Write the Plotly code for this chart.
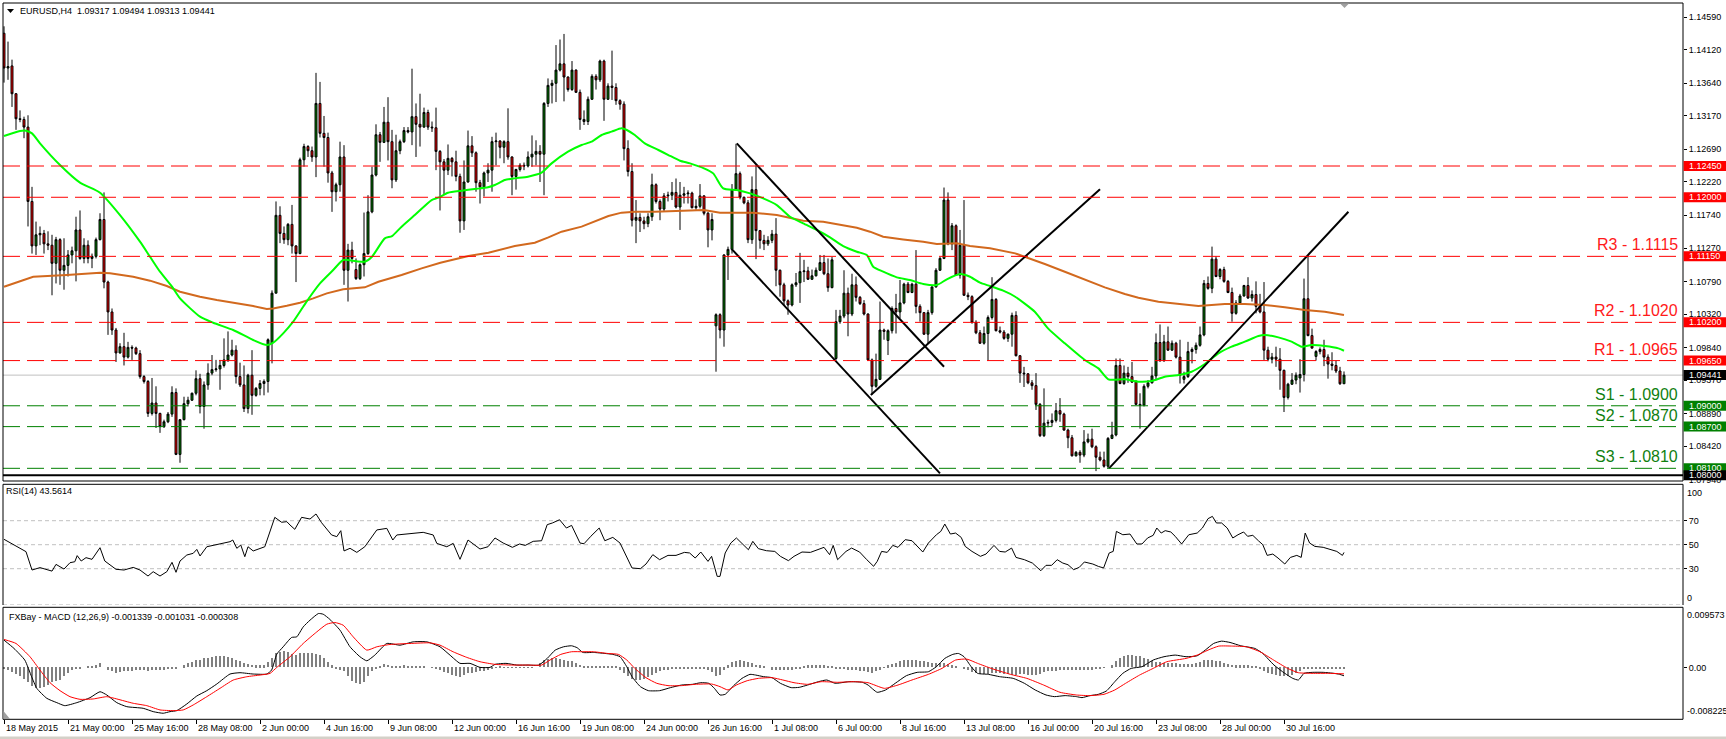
import plotly.graph_objects as go

# ---------------- text ----------------
symbol_header = "EURUSD,H4  1.09317 1.09494 1.09313 1.09441"
rsi_header = "RSI(14) 43.5614"
macd_header = "FXBay - MACD (12,26,9) -0.001339 -0.001031 -0.000308"

# ---------------- x-axis tick labels (every 16 H4 bars) ----------------
time_labels = ["18 May 2015", "21 May 00:00", "25 May 16:00", "28 May 08:00", "2 Jun 00:00",
               "4 Jun 16:00", "9 Jun 08:00", "12 Jun 00:00", "16 Jun 16:00", "19 Jun 08:00",
               "24 Jun 00:00", "26 Jun 16:00", "1 Jul 08:00", "6 Jul 00:00", "8 Jul 16:00",
               "13 Jul 08:00", "16 Jul 00:00", "20 Jul 16:00", "23 Jul 08:00", "28 Jul 00:00",
               "30 Jul 16:00"]
label_bars = [0, 16, 32, 48, 64, 80, 96, 112, 128, 144, 160, 176, 192, 208, 224, 240, 256, 272, 288, 304, 320]

# ---------------- OHLC (H4 bars, index 0 = 18 May 16:00) ----------------
open_ = [
1.1436,1.1386,1.1389,1.1349,1.1313,1.1312,1.1301,1.1194,1.1130,1.1146,
1.1148,1.1133,1.1131,1.1105,1.1139,1.1095,1.1102,1.1117,1.1123,1.1153,
1.1112,1.1131,1.1112,1.1115,1.1139,1.1168,1.1078,1.1035,1.1009,1.0976,
1.0985,1.0970,1.0984,1.0983,1.0975,1.0942,1.0935,1.0889,1.0904,1.0889,
1.0870,1.0877,1.0888,1.0919,1.0830,1.0880,1.0903,1.0908,1.0918,1.0939,
1.0899,1.0930,1.0947,1.0952,1.0953,1.0958,1.0966,1.0973,1.0980,1.0942,
1.0930,1.0896,1.0944,1.0915,1.0925,1.0932,1.0935,1.0990,1.1062,1.1174,
1.1148,1.1139,1.1161,1.1130,1.1119,1.1254,1.1273,1.1267,1.1258,1.1335,
1.1292,1.1286,1.1235,1.1208,1.1218,1.1258,1.1095,1.1124,1.1096,1.1083,
1.1103,1.1119,1.1179,1.1232,1.1290,1.1279,1.1308,1.1280,1.1225,1.1267,
1.1280,1.1296,1.1294,1.1316,1.1305,1.1301,1.1322,1.1301,1.1300,1.1266,
1.1251,1.1239,1.1256,1.1251,1.1230,1.1166,1.1222,1.1274,1.1264,1.1221,
1.1215,1.1235,1.1239,1.1280,1.1281,1.1272,1.1280,1.1258,1.1230,1.1240,
1.1246,1.1245,1.1258,1.1262,1.1266,1.1262,1.1335,1.1361,1.1364,1.1383,
1.1392,1.1373,1.1355,1.1383,1.1351,1.1312,1.1309,1.1341,1.1374,1.1369,
1.1396,1.1341,1.1360,1.1358,1.1339,1.1334,1.1270,1.1237,1.1167,1.1171,
1.1166,1.1162,1.1172,1.1218,1.1194,1.1183,1.1202,1.1203,1.1207,1.1186,
1.1203,1.1205,1.1206,1.1185,1.1187,1.1202,1.1177,1.1153,1.1015,1.1031,
1.1009,1.1117,1.1125,1.1211,1.1234,1.1200,1.1192,1.1139,1.1211,1.1152,
1.1138,1.1133,1.1138,1.1147,1.1095,1.1074,1.1051,1.1045,1.1074,1.1077,
1.1093,1.1094,1.1082,1.1087,1.1095,1.1106,1.1090,1.1070,1.0968,1.1021,
1.1029,1.1062,1.1032,1.1074,1.1056,1.1047,1.1032,1.0966,1.0928,1.0938,
1.1009,1.0994,1.1008,1.1040,1.1035,1.1048,1.1075,1.1063,1.1075,1.1043,
1.1034,1.1003,1.1034,1.1071,1.1095,1.1112,1.1196,1.1133,1.1159,1.1088,
1.1131,1.1059,1.1057,1.1020,1.1005,1.0990,1.1004,1.1027,1.1053,1.1008,
1.1006,1.0997,1.1003,1.1030,1.0972,1.0947,1.0946,1.0933,1.0929,1.0902,
1.0857,1.0875,1.0876,1.0879,1.0893,1.0888,1.0865,1.0854,1.0828,1.0833,
1.0829,1.0848,1.0852,1.0841,1.0826,1.0822,1.0813,1.0853,1.0858,1.0958,
1.0932,1.0947,1.0942,1.0934,1.0902,1.0901,1.0928,1.0933,1.0943,1.0991,
1.0965,1.0992,1.0980,1.0990,1.0970,1.0938,1.0942,1.0978,1.0981,1.0987,
1.1002,1.1076,1.1069,1.1111,1.1086,1.1096,1.1079,1.1063,1.1033,1.1048,
1.1058,1.1073,1.1055,1.1060,1.1043,1.1035,1.0980,1.0967,1.0970,1.0967,
1.0951,1.0912,1.0931,1.0937,1.0940,1.0945,1.1054,1.1001,1.0971,1.0978,
1.0981,1.0970,1.0960,1.0958,1.0950,1.09317]
high = [
1.1446,1.1424,1.1398,1.1350,1.1325,1.1316,1.1318,1.1215,1.1165,1.1158,
1.1153,1.1151,1.1146,1.1143,1.1141,1.1141,1.1124,1.1129,1.1172,1.1181,
1.1141,1.1138,1.1119,1.1142,1.1177,1.1207,1.1080,1.1040,1.1012,1.0990,
1.1005,1.0992,1.0987,1.0985,1.0980,1.0944,1.0937,1.0940,1.0928,1.0890,
1.0880,1.0891,1.0928,1.0925,1.0881,1.0913,1.0913,1.0919,1.0951,1.0946,
1.0935,1.0961,1.0973,1.0966,1.0966,1.0997,1.1007,1.0995,1.0987,1.0962,
1.0958,1.0946,1.0980,1.0927,1.0937,1.0938,1.0997,1.1066,1.1194,1.1187,
1.1158,1.1163,1.1189,1.1131,1.1257,1.1277,1.1275,1.1273,1.1379,1.1366,
1.1317,1.1293,1.1238,1.1221,1.1280,1.1275,1.1133,1.1136,1.1112,1.1105,
1.1178,1.1203,1.1244,1.1305,1.1294,1.1330,1.1344,1.1297,1.1290,1.1283,
1.1301,1.1301,1.1385,1.1335,1.1349,1.1329,1.1326,1.1309,1.1329,1.1268,
1.1255,1.1276,1.1258,1.1267,1.1234,1.1253,1.1296,1.1288,1.1266,1.1225,
1.1237,1.1249,1.1287,1.1293,1.1282,1.1282,1.1328,1.1259,1.1241,1.1249,
1.1250,1.1266,1.1289,1.1282,1.1275,1.1337,1.1371,1.1369,1.1419,1.1427,
1.1435,1.1374,1.1396,1.1384,1.1355,1.1325,1.1345,1.1377,1.1377,1.1398,
1.1398,1.1364,1.1411,1.1364,1.1341,1.1338,1.1282,1.1249,1.1196,1.1177,
1.1172,1.1177,1.1234,1.1220,1.1197,1.1206,1.1208,1.1222,1.1227,1.1222,
1.1215,1.1210,1.1208,1.1197,1.1219,1.1203,1.1179,1.1177,1.1033,1.1033,
1.1118,1.1129,1.1219,1.1277,1.1237,1.1201,1.1196,1.1230,1.1246,1.1153,
1.1146,1.1144,1.1153,1.1170,1.1096,1.1077,1.1053,1.1076,1.1091,1.1120,
1.1110,1.1100,1.1096,1.1099,1.1117,1.1117,1.1112,1.1114,1.1038,1.1038,
1.1095,1.1070,1.1090,1.1086,1.1058,1.1052,1.1033,1.0968,1.0975,1.1050,
1.1011,1.1010,1.1043,1.1061,1.1081,1.1077,1.1078,1.1077,1.1124,1.1046,
1.1035,1.1038,1.1072,1.1098,1.1114,1.1214,1.1207,1.1163,1.1161,1.1153,
1.1196,1.1063,1.1059,1.1023,1.1009,1.1014,1.1030,1.1085,1.1055,1.1014,
1.1009,1.1004,1.1034,1.1036,1.0973,1.0956,1.0947,1.0937,1.0947,1.0904,
1.0925,1.0880,1.0889,1.0904,1.0911,1.0890,1.0867,1.0858,1.0835,1.0836,
1.0865,1.0860,1.0867,1.0843,1.0834,1.0834,1.0855,1.0877,1.0968,1.0968,
1.0958,1.0956,1.0963,1.0937,1.0918,1.0931,1.0937,1.0956,1.1004,1.1017,
1.1002,1.1014,1.0994,1.0992,1.0995,1.0949,1.0992,1.0984,1.0991,1.1014,
1.1081,1.1086,1.1129,1.1115,1.1098,1.1100,1.1081,1.1070,1.1052,1.1061,
1.1074,1.1085,1.1066,1.1079,1.1061,1.1078,1.0985,1.0976,1.0985,1.0983,
1.0952,1.0933,1.0947,1.0948,1.0967,1.1083,1.1117,1.1011,1.0980,1.0984,
1.0995,1.0974,1.0977,1.0965,1.0956,1.09494]
low = [
1.1365,1.1369,1.1330,1.1297,1.1308,1.1285,1.1158,1.1119,1.1117,1.1131,
1.1119,1.1124,1.1059,1.1076,1.1074,1.1067,1.1086,1.1105,1.1079,1.1110,
1.1105,1.1105,1.1098,1.1112,1.1138,1.1069,1.1002,1.1002,1.0963,1.0975,
1.0958,1.0968,1.0966,1.0973,1.0939,1.0932,1.0884,1.0886,1.0868,1.0861,
1.0868,1.0875,1.0884,1.0829,1.0818,1.0879,1.0899,1.0907,1.0915,1.0889,
1.0867,1.0923,1.0944,1.0949,1.0923,1.0955,1.0963,1.0971,1.0932,1.0927,
1.0891,1.0889,1.0887,1.0913,1.0915,1.0915,1.0919,1.0961,1.1062,1.1134,
1.1133,1.1131,1.1119,1.1078,1.1118,1.1244,1.1258,1.1251,1.1229,1.1286,
1.1244,1.1221,1.1179,1.1194,1.1208,1.1074,1.1050,1.1105,1.1081,1.1081,
1.1086,1.1117,1.1177,1.1230,1.1251,1.1278,1.1253,1.1213,1.1222,1.1262,
1.1278,1.1292,1.1275,1.1258,1.1273,1.1300,1.1297,1.1294,1.1239,1.1181,
1.1203,1.1232,1.1230,1.1223,1.1149,1.1153,1.1221,1.1258,1.1208,1.1191,
1.1201,1.1222,1.1208,1.1246,1.1256,1.1249,1.1254,1.1203,1.1211,1.1237,
1.1239,1.1243,1.1244,1.1246,1.1222,1.1203,1.1330,1.1335,1.1337,1.1381,
1.1338,1.1352,1.1353,1.1350,1.1297,1.1304,1.1304,1.1340,1.1355,1.1366,
1.1310,1.1340,1.1340,1.1333,1.1326,1.1253,1.1230,1.1158,1.1134,1.1150,
1.1154,1.1157,1.1166,1.1191,1.1167,1.1179,1.1194,1.1196,1.1184,1.1153,
1.1191,1.1191,1.1184,1.1182,1.1184,1.1174,1.1128,1.1138,1.0949,1.0997,
1.0985,1.1081,1.1119,1.1209,1.1197,1.1190,1.1134,1.1133,1.1111,1.1126,
1.1124,1.1130,1.1134,1.1072,1.1057,1.1044,1.1031,1.1043,1.1071,1.1048,
1.1078,1.1081,1.1081,1.1086,1.1094,1.1088,1.1064,1.1069,1.0966,1.1018,
1.1026,1.1000,1.1029,1.1050,1.1045,1.1030,1.0965,1.0916,1.0926,1.0937,
1.0995,1.0973,1.1004,1.1004,1.1026,1.1046,1.1062,1.1062,1.1033,1.1021,
1.1002,1.0990,1.1031,1.1070,1.1094,1.1111,1.1131,1.1124,1.1087,1.1083,
1.1058,1.1052,1.1018,1.1003,1.0989,1.0988,1.0965,1.1024,1.1007,1.1004,
1.0995,1.0992,1.0985,1.0971,1.0933,1.0927,1.0931,1.0923,1.0894,1.0855,
1.0855,1.0869,1.0870,1.0876,1.0877,1.0864,1.0839,1.0827,1.0827,1.0818,
1.0826,1.0846,1.0839,1.0806,1.0820,1.0811,1.0810,1.0852,1.0856,1.0931,
1.0930,1.0933,1.0933,1.0901,1.0867,1.0899,1.0925,1.0932,1.0937,1.0963,
1.0963,1.0979,1.0979,1.0968,1.0932,1.0932,1.0940,1.0961,1.0975,1.0985,
1.1000,1.1067,1.1062,1.1085,1.1082,1.1077,1.1062,1.1021,1.1031,1.1046,
1.1057,1.1054,1.1050,1.1033,1.1033,1.0966,1.0964,1.0961,1.0956,1.0923,
1.0891,1.0909,1.0930,1.0931,1.0919,1.0935,1.1000,1.0982,1.0965,1.0974,
1.0957,1.0939,1.0951,1.0947,1.0930,1.09313]
close = [
1.1386,1.1388,1.1349,1.1313,1.1312,1.1301,1.1194,1.1130,1.1146,1.1148,
1.1133,1.1131,1.1105,1.1139,1.1095,1.1102,1.1117,1.1123,1.1153,1.1112,
1.1131,1.1112,1.1115,1.1139,1.1168,1.1078,1.1035,1.1009,1.0976,1.0985,
1.0970,1.0984,1.0983,1.0975,1.0942,1.0935,1.0889,1.0904,1.0889,1.0870,
1.0877,1.0888,1.0919,1.0830,1.0880,1.0903,1.0908,1.0918,1.0939,1.0899,
1.0930,1.0947,1.0952,1.0953,1.0958,1.0966,1.0973,1.0980,1.0942,1.0930,
1.0896,1.0944,1.0915,1.0925,1.0932,1.0935,1.0995,1.1062,1.1174,1.1148,
1.1139,1.1161,1.1130,1.1119,1.1254,1.1273,1.1267,1.1258,1.1335,1.1292,
1.1286,1.1235,1.1208,1.1218,1.1258,1.1095,1.1124,1.1112,1.1083,1.1103,
1.1119,1.1179,1.1232,1.1290,1.1279,1.1308,1.1280,1.1225,1.1267,1.1280,
1.1296,1.1294,1.1316,1.1305,1.1301,1.1322,1.1301,1.1300,1.1266,1.1251,
1.1239,1.1256,1.1251,1.1230,1.1166,1.1222,1.1274,1.1264,1.1221,1.1215,
1.1235,1.1239,1.1280,1.1281,1.1272,1.1280,1.1258,1.1230,1.1240,1.1246,
1.1245,1.1258,1.1262,1.1266,1.1262,1.1335,1.1361,1.1364,1.1383,1.1392,
1.1373,1.1355,1.1383,1.1351,1.1312,1.1309,1.1341,1.1374,1.1369,1.1396,
1.1341,1.1360,1.1358,1.1339,1.1334,1.1270,1.1237,1.1167,1.1171,1.1166,
1.1162,1.1172,1.1218,1.1194,1.1183,1.1202,1.1203,1.1207,1.1186,1.1203,
1.1205,1.1206,1.1185,1.1187,1.1202,1.1177,1.1153,1.1168,1.1031,1.1009,
1.1117,1.1125,1.1211,1.1234,1.1200,1.1192,1.1139,1.1211,1.1152,1.1138,
1.1133,1.1138,1.1147,1.1095,1.1074,1.1051,1.1045,1.1074,1.1077,1.1093,
1.1094,1.1082,1.1087,1.1095,1.1106,1.1090,1.1070,1.1110,1.1021,1.1029,
1.1062,1.1032,1.1074,1.1056,1.1047,1.1032,1.0966,1.0928,1.0938,1.1009,
1.1007,1.1008,1.1040,1.1035,1.1048,1.1075,1.1063,1.1075,1.1043,1.1034,
1.1003,1.1034,1.1071,1.1095,1.1112,1.1196,1.1133,1.1159,1.1088,1.1131,
1.1059,1.1057,1.1020,1.1005,1.0990,1.1004,1.1027,1.1053,1.1008,1.1006,
1.0997,1.1003,1.1030,1.0972,1.0947,1.0946,1.0933,1.0929,1.0902,1.0857,
1.0875,1.0876,1.0879,1.0893,1.0888,1.0865,1.0854,1.0828,1.0833,1.0829,
1.0848,1.0852,1.0841,1.0826,1.0822,1.0813,1.0853,1.0858,1.0958,1.0932,
1.0947,1.0942,1.0934,1.0902,1.0901,1.0928,1.0933,1.0943,1.0991,1.0965,
1.0992,1.0980,1.0990,1.0970,1.0944,1.0942,1.0978,1.0981,1.0987,1.1002,
1.1076,1.1069,1.1111,1.1086,1.1096,1.1079,1.1063,1.1033,1.1048,1.1058,
1.1073,1.1055,1.1060,1.1043,1.1035,1.0980,1.0967,1.0970,1.0967,1.0951,
1.0912,1.0931,1.0937,1.0944,1.0945,1.1054,1.1001,1.0983,1.0978,1.0981,
1.0970,1.0960,1.0958,1.0950,1.09317,1.09441]

# ---------------- moving averages: (bar, price) ----------------
ma_fast = [(0,1.12882),(4,1.12953),(5.5,1.12958),(7,1.12920),(9,1.12776),(14,1.12464),(19,1.12210),
 (24,1.12066),(29,1.11744),(34,1.11361),(36.5,1.11145),(39,1.10929),(42,1.10713),(44,1.10545),
 (49,1.10282),(52.3,1.10195),(57.3,1.10090),(62.3,1.09946),(65.7,1.09874),(67.3,1.09908),
 (69.8,1.10042),(72.3,1.10210),(74.8,1.10425),(76.5,1.10569),(79,1.10761),(82.3,1.10953),
 (84.8,1.11097),(88,1.11080),(90.2,1.11073),(92,1.11145),(95.2,1.11409),(97,1.11442),(99.4,1.11577),
 (102.7,1.11744),(106.9,1.11960),(108.6,1.11994),(111,1.12066),(114.4,1.12095),(117.7,1.12119),
 (121,1.12143),(122.7,1.12176),(125.2,1.12248),(127.7,1.12272),(131,1.12296),(134.4,1.12354),
 (136.9,1.12488),(141,1.12656),(144.4,1.12752),(146.9,1.12800),(149.4,1.12896),(151.9,1.12944),
 (154.4,1.12992),(155.7,1.12968),(157.7,1.12896),(160.2,1.12776),(163.6,1.12680),(166.1,1.12608),
 (169,1.12526),(171.5,1.12488),(175,1.12416),(177.3,1.12344),(179.8,1.12128),(183.2,1.12104),
 (186.5,1.12056),(189.8,1.11984),(193.2,1.11888),(196.5,1.11720),(199.8,1.11624),(203.2,1.11529),
 (206.5,1.11423),(209.8,1.11298),(213.2,1.11217),(215.7,1.11169),(217.3,1.11001),(219.8,1.10929),
 (223.2,1.10848),(226.5,1.10809),(229.8,1.10752),(233.2,1.10737),(235.7,1.10819),(239,1.10895),
 (241.5,1.10857),(244,1.10771),(246.5,1.10723),(249.8,1.10656),(252.8,1.10569),(257.7,1.10353),
 (261,1.10114),(265.2,1.09898),(270.2,1.09658),(273.6,1.09538),(276.1,1.09380),(280.2,1.09380),
 (283.6,1.09346),(286.9,1.09356),(290.2,1.09418),(293.6,1.09442),(296.9,1.09490),(300.2,1.09601),
 (303.6,1.09754),(306.9,1.09850),(310.2,1.09922),(313.6,1.10003),(315.2,1.10018),(318.6,1.09984),
 (321.9,1.09922),(324.4,1.09850),(326.9,1.09874),(330.2,1.09860),(333.6,1.09826),(335,1.09792)]
ma_slow = [(0,1.10713),(4,1.10795),(7.3,1.10857),(15.7,1.10881),(24,1.10915),(26.5,1.10905),
 (32.3,1.10857),(36.5,1.10800),(40.7,1.10723),(44,1.10641),(49,1.10569),(53.2,1.10521),(57.3,1.10483),
 (62.3,1.10435),(65.7,1.10392),(67.3,1.10401),(70.7,1.10440),(74,1.10483),(77.3,1.10545),
 (80.7,1.10617),(84.8,1.10675),(90.2,1.10704),(93.6,1.10785),(99.4,1.10881),(104.4,1.10977),
 (109.1,1.11059),(116.1,1.11155),(121.1,1.11203),(127.7,1.11299),(132.7,1.11347),(136.1,1.11423),
 (139.4,1.11505),(144.4,1.11577),(147.7,1.11649),(151.1,1.11731),(154.4,1.11779),(157.7,1.11793),
 (162.7,1.11793),(169,1.11807),(175,1.11817),(179,1.11778),(187.3,1.11778),(193.2,1.11744),
 (199.8,1.11663),(204.8,1.11649),(208.2,1.11610),(213.2,1.11562),(216.5,1.11505),(219.8,1.11433),
 (224.8,1.11394),(229.8,1.11361),(233.2,1.11327),(238.2,1.11337),(241.5,1.11299),(246.5,1.11265),
 (252.8,1.11193),(255.2,1.11145),(260.2,1.11039),(265.2,1.10929),(270.2,1.10819),(275.2,1.10704),
 (280.2,1.10608),(283.6,1.10555),(288.6,1.10498),(293.6,1.10464),(298.6,1.10435),(301.9,1.10450),
 (305.2,1.10464),(310.2,1.10464),(315.2,1.10450),(320.2,1.10416),(325.2,1.10378),(330.2,1.10354),
 (335,1.10306)]

# ---------------- trend lines: (bar0, price0, bar1, price1) ----------------
trend_lines = [(183.2, 1.12776, 235.0, 1.09562),
               (182.0, 1.11251, 234.0, 1.08027),
               (216.7, 1.09154, 274.0, 1.12114),
               (276.25, 1.08099, 336.1, 1.11792)]

# ---------------- horizontal levels ----------------
resistance_levels = [1.1245, 1.1200, 1.1115, 1.1020, 1.0965]
support_levels = [1.0900, 1.0870, 1.0810]
level_texts = [("R3 - 1.1115", 1.1115, "red"), ("R2 - 1.1020", 1.1020, "red"), ("R1 - 1.0965", 1.0965, "red"),
               ("S1 - 1.0900", 1.0900, "green"), ("S2 - 1.0870", 1.0870, "green"), ("S3 - 1.0810", 1.0810, "green")]
floor_level = 1.0800
last_price = 1.09441
price_ticks = [1.14590, 1.14120, 1.13640, 1.13170, 1.12690, 1.12220, 1.11740, 1.11270,
               1.10790, 1.10320, 1.09840, 1.09370, 1.08890, 1.08420, 1.07940]
price_tags = [(1.12450, "#ff0000"), (1.12000, "#ff0000"), (1.11150, "#ff0000"), (1.10200, "#ff0000"),
              (1.09650, "#ff0000"), (1.09441, "#000000"), (1.09000, "#008000"), (1.08700, "#008000"),
              (1.08100, "#008000"), (1.08000, "#000000")]

# ---------------- RSI(14): (bar, value) ----------------
rsi_points = [(0,54.5),(2.5,49.7),(5.5,44.2),(7,28.9),(9,30.9),(12,28),(13,33.6),(15,29.7),(16.5,35),
 (17.7,35.8),(18.3,40.9),(19.3,36.4),(20.5,39.2),(22,37.8),(24,47.5),(25.2,36.4),(28,29.5),(30,28.9),
 (32.3,31.1),(34,28.9),(36,23.9),(37.3,27.5),(39,23.9),(40.7,27.5),(42,35.3),(43,27),(44,36.4),
 (45.7,41.4),(47.3,42.8),(48.2,46.1),(49,40.6),(50.7,48.3),(53.2,50.3),(56.5,52.5),(57.2,53.9),
 (58.2,47),(59.2,49.7),(60.2,40),(61,48.3),(62.3,44.8),(65.2,48.3),(67.7,72.8),(69.4,68.7),
 (70.7,69.2),(71.5,66.4),(72.7,62.8),(74.4,72.8),(76.5,71.4),(78,75.6),(79.4,68.3),(81.9,58.1),
 (83.2,56.7),(84.2,61.7),(85,44.8),(86.5,47),(88.2,43.6),(90.2,48.3),(93.2,62.3),(95.7,63.6),
 (97.2,53.9),(98.2,58.1),(101.5,59.5),(104.8,60.3),(107.3,58.1),(108.2,51.1),(110.7,48.3),
 (112.3,51.1),(114,37.8),(116,53.9),(119,46.4),(121,48.3),(122.75,55.6),(124.8,51.4),(127.1,47.8),
 (128.9,50.6),(130.3,49.4),(132.3,52.8),(134.4,53.3),(135.8,66.7),(137.1,68.1),(138.9,70.8),
 (140.6,63.9),(141.9,66.1),(144,51.4),(145,50.8),(146.7,57),(148.8,63.9),(150.2,53.3),(152.2,56.1),
 (154,51.4),(155.7,40.3),(157,30.6),(159.1,30),(160.5,33.9),(162.2,41.7),(163.9,37.5),(166,41.1),
 (168,41.1),(170.1,43.6),(171.4,43.1),(172.8,38.9),(174.2,43.9),(176,36.1),(176.9,40.3),(178.3,23.6),
 (179,23.6),(180.3,43.1),(181.7,51.4),(183.1,55.6),(184.5,51.4),(186.1,45.8),(187.2,52.8),(188.6,46.7),
 (190.6,45),(192.7,44.4),(194.1,40.3),(196.1,36.7),(197.5,40.3),(199.5,43.9),(201.6,43.6),(203.6,45.8),
 (205,47.8),(206.4,41.7),(207.3,49.4),(208.4,37.5),(210.5,44.4),(211.9,47.2),(213.9,43.9),(215.7,37.5),
 (217.4,32),(218.3,36.1),(219.4,44.4),(220.8,43.6),(222.2,49.4),(223.5,47.8),(225.3,54.2),(227,53.3),
 (228.3,48.6),(229.7,43.9),(231.1,51.4),(233.1,58.3),(234.2,61.1),(235.2,67.2),(236.6,58.9),
 (237.9,59.7),(239.3,56.1),(240.3,48.6),(242,44.4),(244.1,40.3),(245.5,42.2),(247.5,49.4),(248.9,44.4),
 (250.3,43.9),(251.9,47.2),(253,39.4),(255.1,37.5),(257.1,34.7),(259.2,28.3),(260.5,32.8),(261.9,32.8),
 (263.3,37.5),(264.7,34.7),(266,33.3),(267.4,29.2),(268.8,31.1),(270.1,35.6),(272.2,33.9),(273.6,31.9),
 (274.9,30.6),(276.3,43.1),(277.3,44.4),(278.1,61.1),(279.7,58.3),(281.5,58.9),(283.2,50.6),
 (284.5,50.6),(285.9,55.6),(287.3,57.8),(288.2,63.9),(289.3,59.7),(290.3,61.7),(291.7,60.6),(292.8,57),
 (294.4,50.6),(296.2,58.3),(298.3,59.7),(299.6,63.9),(301,71.7),(302.1,73.6),(303.1,68.1),(304.4,68.1),
 (305.8,63.9),(307.2,55.6),(308.5,58.3),(309.9,60.6),(310.9,57),(312.2,57.8),(313.6,53.3),(314.7,50),
 (315.8,41.1),(317.2,42.2),(318.5,38.9),(320.2,33.9),(321.6,39.4),(323.2,41.1),(324.3,39.4),
 (325.3,59.7),(326.4,51.4),(327.7,48.6),(329.8,47.8),(331.8,45.8),(333.2,44.4),(334.6,41.1),(335,43.56)]
rsi_levels = [70, 50, 30, 0]

# ---------------- MACD (12,26,9) ----------------
macd_main = [(0,0.00434),(2.5,0.00302),(5.2,0.00116),(6.9,-0.00149),(8.2,-0.00334),(10.7,-0.00493),
 (13.2,-0.00562),(15.2,-0.00610),(18.2,-0.00562),(21.5,-0.00483),(24,-0.00388),(25.7,-0.00440),
 (28.2,-0.00562),(30.7,-0.00626),(34.8,-0.00652),(37.3,-0.00705),(39.8,-0.00731),(41.5,-0.00705),
 (43.2,-0.00689),(45.7,-0.00583),(48.2,-0.00456),(50.7,-0.00371),(53.2,-0.00265),(56.5,-0.00106),
 (59,-0.00085),(62.3,-0.00106),(65.7,-0.00106),(66.9,-0.00043),(68.2,0.00211),(69.8,0.00328),
 (71.9,0.00477),(73.2,0.00487),(74.8,0.00645),(76.5,0.00752),(78.6,0.00858),(79.8,0.00847),
 (81.5,0.00763),(84,0.00593),(86.5,0.00328),(89,0.00169),(90.7,0.00105),(92.7,0.00195),(95.7,0.00381),
 (99,0.00354),(102.3,0.00407),(105.7,0.00407),(109,0.00328),(111.5,0.00195),(114,0.00064),
 (116.5,0.00064),(119,0.0),(121.5,0.0),(122.75,0.00048),(125.5,0.00064),(128.2,0.00037),(131,0.00037),
 (133.7,0.00037),(135.8,0.00143),(137.8,0.00275),(139.9,0.00328),(141.9,0.00344),(143.3,0.00313),
 (144.7,0.00238),(147.4,0.00238),(150.2,0.00222),(152.2,0.00207),(154,0.0017),(155.7,0.0001),
 (157,-0.00148),(159.1,-0.00307),(161.1,-0.00371),(163.9,-0.00371),(166.6,-0.00323),(169.4,-0.00281),
 (172.1,-0.0027),(174.2,-0.00244),(176.2,-0.00254),(177.6,-0.00334),(179,-0.0044),(180.3,-0.00429),
 (182.4,-0.00291),(184.5,-0.00175),(186.5,-0.00111),(187.9,-0.00122),(189.9,-0.00148),(192,-0.00164),
 (194.1,-0.00254),(196.8,-0.00323),(198.8,-0.00318),(200.9,-0.00281),(203.6,-0.00228),(205.7,-0.00201),
 (207.8,-0.00254),(211.2,-0.00228),(214.6,-0.00238),(216,-0.00281),(218.3,-0.00397),(220.4,-0.0036),
 (222.8,-0.00254),(225.6,-0.00132),(228.3,-0.00079),(231.1,-0.00069),(233.1,0.00011),(235.2,0.00143),
 (237.2,0.00207),(238.6,0.00222),(240,0.0017),(241.8,0.00011),(243.4,-0.00095),(246.1,-0.00111),
 (248.9,-0.00148),(252.3,-0.00175),(255.1,-0.00254),(257.8,-0.0036),(260.5,-0.0044),(262.6,-0.00466),
 (265.3,-0.0045),(268.1,-0.00466),(269.5,-0.00482),(271.5,-0.0045),(273.6,-0.00429),(275.6,-0.00376),
 (277.7,-0.00228),(279.7,-0.00095),(281.8,-0.00016),(284.5,0.00011),(287.3,0.00117),(290,0.0017),
 (292.8,0.00196),(295.5,0.0017),(298.3,0.00185),(300.3,0.00275),(302.4,0.00381),(304.4,0.00418),
 (306.5,0.00397),(309.2,0.00344),(312.7,0.00302),(314.7,0.00222),(317.5,0.00037),(320.2,-0.00095),
 (322.2,-0.00175),(323.6,-0.00201),(325,-0.00095),(327.2,-0.00079),(329.8,-0.00079),(332.5,-0.00095),
 (333.9,-0.00111),(335,-0.001339)]
macd_signal = [(0,0.00445),(3,0.00381),(6.5,0.00169),(9,-0.00043),(11.5,-0.00244),(14,-0.00371),
 (16.5,-0.00467),(19,-0.00509),(22.3,-0.00503),(25.7,-0.00467),(28.2,-0.00503),(32.3,-0.00572),
 (35.7,-0.00610),(39,-0.00678),(42.3,-0.00689),(44.8,-0.00678),(47.3,-0.00599),(50.7,-0.00467),
 (54,-0.00334),(57.3,-0.00202),(60.7,-0.00149),(64,-0.00122),(66.5,-0.00096),(68.2,0.0),
 (71.5,0.00169),(74.8,0.00381),(78.2,0.00566),(80.7,0.00688),(82.7,0.00715),(84.8,0.00672),
 (87.3,0.00487),(90.7,0.00275),(93.2,0.00328),(96.5,0.00365),(101.5,0.00381),(106.5,0.00391),
 (109,0.00354),(112.3,0.00248),(115.7,0.00159),(119,0.00090),(122.75,0.00048),(126.9,0.00037),
 (131,0.00037),(134.4,0.00037),(136.5,0.00117),(139.2,0.00207),(141.9,0.00249),(144.7,0.00249),
 (147.4,0.00249),(150.9,0.00222),(153.6,0.00207),(155.7,0.00117),(157.7,-0.00016),(160.5,-0.00164),
 (163.2,-0.00254),(166,-0.00291),(169.4,-0.00291),(172.8,-0.0027),(176.9,-0.00265),(179,-0.00307),
 (181,-0.0036),(183.1,-0.00281),(185.8,-0.00212),(188.6,-0.00175),(192,-0.00164),(194.7,-0.00201),
 (197.5,-0.00244),(200.9,-0.0027),(204.3,-0.00228),(208.4,-0.00238),(212.6,-0.00228),(216,-0.00244),
 (220.1,-0.00334),(223.5,-0.00281),(227,-0.00201),(231.1,-0.00111),(234.5,-0.00016),(237.9,0.00117),
 (240.7,0.00132),(243.4,0.00064),(246.8,-0.00016),(251.6,-0.00111),(255.7,-0.00175),(259.9,-0.00281),
 (264,-0.00397),(268.1,-0.0044),(271.5,-0.0045),(275,-0.00429),(277.7,-0.0036),(280.4,-0.00254),
 (283.9,-0.00122),(287.3,-0.00016),(290.7,0.0009),(295.5,0.00143),(298.3,0.00196),(301,0.00275),
 (303.7,0.00339),(307.2,0.00339),(310.6,0.00328),(314,0.00249),(317.4,0.00117),(320.9,-0.00016),
 (323.6,-0.00085),(327,-0.00095),(331.2,-0.00095),(335,-0.001031)]
macd_hist = [
-0.0002,-0.0005,-0.0008,-0.0011,-0.0015,-0.0019,-0.0024,-0.0030,-0.0034,-0.0033,
-0.0031,-0.0028,-0.0024,-0.0022,-0.0020,-0.0015,-0.0010,-0.0005,-0.0003,-0.0002,
0.0000,0.0001,0.0002,0.0003,0.0006,0.0000,-0.0004,-0.0007,-0.0009,-0.0008,
-0.0007,-0.0006,-0.0006,-0.0005,-0.0005,-0.0005,-0.0006,-0.0005,-0.0005,-0.0005,
-0.0004,-0.0003,-0.0002,-0.0003,0.0000,0.0003,0.0006,0.0008,0.0011,0.0012,
0.0014,0.0015,0.0016,0.0017,0.0017,0.0017,0.0016,0.0014,0.0012,0.0009,
0.0006,0.0005,0.0004,0.0003,0.0003,0.0003,0.0008,0.0014,0.0023,0.0024,
0.0025,0.0024,0.0021,0.0020,0.0022,0.0022,0.0022,0.0022,0.0021,0.0019,
0.0014,0.0008,0.0003,-0.0002,-0.0004,-0.0007,-0.0015,-0.0022,-0.0026,-0.0027,
-0.0024,-0.0015,-0.0007,-0.0002,0.0002,0.0005,0.0004,0.0002,0.0002,0.0002,
0.0003,0.0002,0.0002,0.0002,0.0001,0.0001,0.0000,-0.0001,-0.0002,-0.0005,
-0.0008,-0.0010,-0.0012,-0.0014,-0.0016,-0.0012,-0.0010,-0.0009,-0.0008,-0.0007,
-0.0006,-0.0005,-0.0003,-0.0001,0.0001,
-0.0001,-0.0001,-0.0001,-0.0001,-0.0001,-0.0001,-0.0001,-0.0001,0.0000,
0.0006,0.0011,0.0013,0.0015,0.0014,0.0013,0.0012,0.0010,0.0009,0.0006,0.0004,
0.0002,0.0002,0.0002,0.0002,0.0002,0.0002,0.0002,0.0002,0.0001,
-0.0004,-0.0009,-0.0014,-0.0019,-0.0021,-0.0021,-0.0019,-0.0016,-0.0013,-0.0010,-0.0006,
-0.0004,-0.0004,-0.0003,-0.0003,-0.0003,-0.0003,-0.0003,-0.0003,-0.0003,-0.0003,-0.0003,-0.0004,
-0.0008,-0.0015,-0.0012,-0.0005,0.0003,0.0008,0.0010,0.0012,0.0010,0.0008,0.0006,0.0004,0.0003,0.0002,0.0000,
-0.0004,-0.0004,-0.0004,-0.0004,-0.0004,-0.0004,-0.0003,-0.0002,
0.0002,0.0003,0.0003,0.0003,0.0003,0.0003,0.0002,0.0001,
-0.0002,-0.0003,-0.0003,-0.0004,-0.0004,-0.0005,-0.0006,-0.0007,-0.0008,
-0.0009,-0.0007,-0.0004,-0.0001,
0.0003,0.0005,0.0007,0.0010,0.0011,0.0012,0.0012,0.0011,0.0010,0.0009,0.0008,0.0007,0.0006,0.0006,0.0006,0.0005,0.0003,0.0001,0.0000,
-0.0002,-0.0005,-0.0008,
-0.0010,-0.0011,-0.0011,-0.0011,-0.0010,-0.0010,-0.0010,-0.0011,-0.0011,
-0.0012,-0.0012,-0.0011,-0.0011,-0.0012,-0.0012,-0.0012,-0.0011,
-0.0008,-0.0007,-0.0006,-0.0006,-0.0005,-0.0005,-0.0005,-0.0005,-0.0004,-0.0004,-0.0004,-0.0004,-0.0004,-0.0003,
-0.0002,-0.0001,0.0000,0.0003,
0.0009,0.0015,0.0018,0.0019,0.0019,0.0018,0.0017,0.0015,0.0013,0.0010,
0.0008,0.0008,0.0007,0.0007,0.0006,0.0006,0.0005,0.0005,0.0005,0.0005,0.0006,
0.0008,0.0011,0.0012,0.0011,0.0010,0.0009,0.0007,0.0005,
0.0004,0.0003,0.0003,0.0003,0.0003,0.0002,0.0001,
-0.0003,-0.0006,-0.0009,-0.0011,-0.0013,-0.0014,-0.0015,-0.0014,-0.0013,-0.0010,-0.0006,
-0.0003,-0.0002,-0.0002,-0.0002,-0.0002,-0.0002,-0.0002,-0.0003,-0.0003,-0.0003,-0.000308]
macd_top, macd_bottom = 0.009573, -0.008225

# ---------------- geometry ----------------
W, H = 1726, 739
ML, MR, MT, MB = 3, 43, 3, 20
PW, PH = W - ML - MR, H - MT - MB
def pxx(px):
    return (px - ML) / PW
def pxy(py):
    return (H - MB - py) / PH
def dom(a, b):
    return [max(0.0, min(1.0, a)), max(0.0, min(1.0, b))]

bars = list(range(len(close)))
x_range = [-0.25, (PW / 4.0) - 0.25]
main_range = [1.079175, 1.147954]
FONT = "Liberation Sans, Arial, sans-serif"
px_price = (main_range[1] - main_range[0]) / (481 - 3)

fig = go.Figure()

fig.add_trace(go.Candlestick(
    x=bars, open=open_, high=high, low=low, close=close,
    increasing=dict(fillcolor="#008000", line=dict(color="#000000", width=1)),
    decreasing=dict(fillcolor="#ff0000", line=dict(color="#000000", width=1)),
    whiskerwidth=0, xaxis="x2", yaxis="y", showlegend=False, hoverinfo="skip"))

fig.add_trace(go.Scatter(x=[p[0] for p in ma_slow], y=[p[1] for p in ma_slow], mode="lines",
                         line=dict(color="#d2691e", width=2), xaxis="x2", yaxis="y", showlegend=False))
fig.add_trace(go.Scatter(x=[p[0] for p in ma_fast], y=[p[1] for p in ma_fast], mode="lines",
                         line=dict(color="#00ff00", width=2, shape="spline", smoothing=0.6),
                         xaxis="x2", yaxis="y", showlegend=False))
for (b0, p0, b1, p1) in trend_lines:
    fig.add_trace(go.Scatter(x=[b0, b1], y=[p0, p1], mode="lines", line=dict(color="#000000", width=2),
                             xaxis="x2", yaxis="y", showlegend=False, cliponaxis=True))

# RSI
fig.add_trace(go.Scatter(x=[p[0] for p in rsi_points], y=[p[1] for p in rsi_points], mode="lines",
                         line=dict(color="#000000", width=1), xaxis="x3", yaxis="y2", showlegend=False))

# MACD
fig.add_trace(go.Bar(x=bars, y=macd_hist, width=0.28, marker=dict(color="#808080", line=dict(width=0)),
                     xaxis="x", yaxis="y3", showlegend=False))
fig.add_trace(go.Scatter(x=[p[0] for p in macd_main], y=[p[1] for p in macd_main], mode="lines",
                         line=dict(color="#000000", width=1, shape="spline", smoothing=0.5),
                         xaxis="x", yaxis="y3", showlegend=False))
fig.add_trace(go.Scatter(x=[p[0] for p in macd_signal], y=[p[1] for p in macd_signal], mode="lines",
                         line=dict(color="#ff0000", width=1, shape="spline", smoothing=0.5),
                         xaxis="x", yaxis="y3", showlegend=False))

shapes = []
for lv in resistance_levels:
    shapes.append(dict(type="line", xref="paper", yref="y", x0=0, x1=1, y0=lv, y1=lv,
                       line=dict(color="#ff0000", width=1, dash="17px,7px"), layer="above"))
for lv in support_levels:
    shapes.append(dict(type="line", xref="paper", yref="y", x0=0, x1=1, y0=lv, y1=lv,
                       line=dict(color="#008000", width=1, dash="17px,7px"), layer="above"))
shapes.append(dict(type="line", xref="paper", yref="y", x0=0, x1=1, y0=last_price, y1=last_price,
                   line=dict(color="#c0c0c0", width=1), layer="below"))
shapes.append(dict(type="line", xref="paper", yref="y", x0=0, x1=1, y0=floor_level, y1=floor_level,
                   line=dict(color="#000000", width=2), layer="above"))
for lv in rsi_levels:
    shapes.append(dict(type="line", xref="paper", yref="y2", x0=0, x1=1, y0=lv, y1=lv,
                       line=dict(color="#c0c0c0", width=1, dash="4px,3px"), layer="below"))

# panel borders
def seg(x0, y0, x1, y1, w=1, c="#000000"):
    return dict(type="line", xref="paper", yref="paper", x0=pxx(x0), y0=pxy(y0), x1=pxx(x1), y1=pxy(y1),
                line=dict(color=c, width=w), layer="above")
shapes += [seg(3, 3, 1683, 3), seg(3, 481, 1683, 481), seg(3, 3, 3, 481), seg(1683, 3, 1683, 481),
           seg(3, 484.3, 1683, 484.3), seg(3, 484.3, 3, 605), seg(1683, 484.3, 1683, 605),
           seg(3, 607.3, 1683, 607.3), seg(3, 719.3, 1683, 719.3), seg(3, 607.3, 3, 719.3),
           seg(1683, 607.3, 1683, 719.3)]

# price tags on right scale
for (lv, col) in price_tags:
    shapes.append(dict(type="rect", xref="paper", yref="y", x0=pxx(1683.6), x1=pxx(1726),
                       y0=lv - 5 * px_price, y1=lv + 5 * px_price, fillcolor=col,
                       line=dict(width=0), layer="above"))

# small triangles
def tri(points, col):
    d = "M " + " L ".join(f"{pxx(a):.6f},{pxy(b):.6f}" for a, b in points) + " Z"
    return dict(type="path", xref="paper", yref="paper", path=d, fillcolor=col, line=dict(width=0), layer="above")
shapes.append(tri([(7, 9), (14, 9), (10.5, 13)], "#000000"))
shapes.append(tri([(1340, 3.5), (1349, 3.5), (1344.5, 8)], "#a0a0a0"))
shapes.append(tri([(3.5, 711), (3.5, 719), (10, 719)], "#a0a0a0"))
shapes.append(dict(type="rect", xref="paper", yref="paper", x0=pxx(0), x1=pxx(1726), y0=pxy(739), y1=pxy(736.5),
                   fillcolor="#d4d0c8", line=dict(width=0), layer="above"))

annotations = []
def ann(text, x, y, xref="paper", yref="paper", xanchor="left", yanchor="middle", size=9, color="#000000",
        bgcolor=None, yshift=0, xshift=0):
    a = dict(text=text, x=x, y=y, xref=xref, yref=yref, xanchor=xanchor, yanchor=yanchor, showarrow=False,
             font=dict(family=FONT, size=size, color=color), yshift=yshift, xshift=xshift, borderpad=0)
    if bgcolor:
        a["bgcolor"] = bgcolor
    return a

annotations.append(ann(symbol_header, pxx(19), pxy(11)))
annotations.append(ann(rsi_header, pxx(5), pxy(491)))
annotations.append(ann(macd_header, pxx(8), pxy(617)))
for (txt, lv, col) in level_texts:
    annotations.append(ann(txt, pxx(1679), lv, yref="y", xanchor="right", yanchor="bottom", size=16,
                           color="#ff1a1a" if col == "red" else "#108010", yshift=2))
for (lv, col) in price_tags:
    annotations.append(ann(f"{lv:.5f}", pxx(1688), lv, yref="y", color="#ffffff"))
annotations.append(ann("100", pxx(1686), 100, yref="y2", yanchor="top", yshift=-2))
annotations.append(ann("0", pxx(1686), 0, yref="y2", yanchor="bottom", yshift=1))
annotations.append(ann(f"{macd_top:.6f}", pxx(1686), macd_top, yref="y3", yanchor="top", yshift=-2))
annotations.append(ann(f"{macd_bottom:.6f}", pxx(1686), macd_bottom, yref="y3", yanchor="bottom", yshift=2))
for b, t in zip(label_bars, time_labels):
    annotations.append(ann(t, b, pxy(728.5), xref="x", xshift=1))

axis_common = dict(showgrid=False, zeroline=False, showline=False, fixedrange=True)
fig.update_layout(
    width=W, height=H, margin=dict(l=ML, r=MR, t=MT, b=MB),
    paper_bgcolor="#ffffff", plot_bgcolor="#ffffff", showlegend=False, bargap=0,
    font=dict(family=FONT, size=9, color="#000000"),
    xaxis=dict(domain=[0, 1], anchor="y3", range=x_range, tickvals=label_bars, ticktext=[""] * len(label_bars),
               ticks="outside", ticklen=4, tickcolor="#000000", rangeslider=dict(visible=False), **axis_common),
    xaxis2=dict(domain=[0, 1], anchor="y", range=x_range, showticklabels=False, ticks="",
                rangeslider=dict(visible=False), **axis_common),
    xaxis3=dict(domain=[0, 1], anchor="y2", range=x_range, showticklabels=False, ticks="",
                rangeslider=dict(visible=False), **axis_common),
    yaxis=dict(domain=dom(pxy(481), pxy(3)), anchor="x2", side="right", range=main_range,
               tickvals=price_ticks, ticktext=[f"{v:.5f}" for v in price_ticks], ticks="outside",
               ticklen=3, tickcolor="#000000", tickfont=dict(family=FONT, size=9), **axis_common),
    yaxis2=dict(domain=dom(pxy(604.7), pxy(484.7)), anchor="x3", side="right", range=[0, 100],
                tickvals=[70, 50, 30], ticktext=["70", "50", "30"], ticks="outside", ticklen=3,
                tickcolor="#000000", tickfont=dict(family=FONT, size=9), **axis_common),
    yaxis3=dict(domain=dom(pxy(719), pxy(607.3)), anchor="x", side="right", range=[macd_bottom, macd_top],
                tickvals=[0.0], ticktext=["0.00"], ticks="outside", ticklen=3, tickcolor="#000000",
                tickfont=dict(family=FONT, size=9), **axis_common),
    shapes=shapes, annotations=annotations,
)

fig.write_html("out.html")
